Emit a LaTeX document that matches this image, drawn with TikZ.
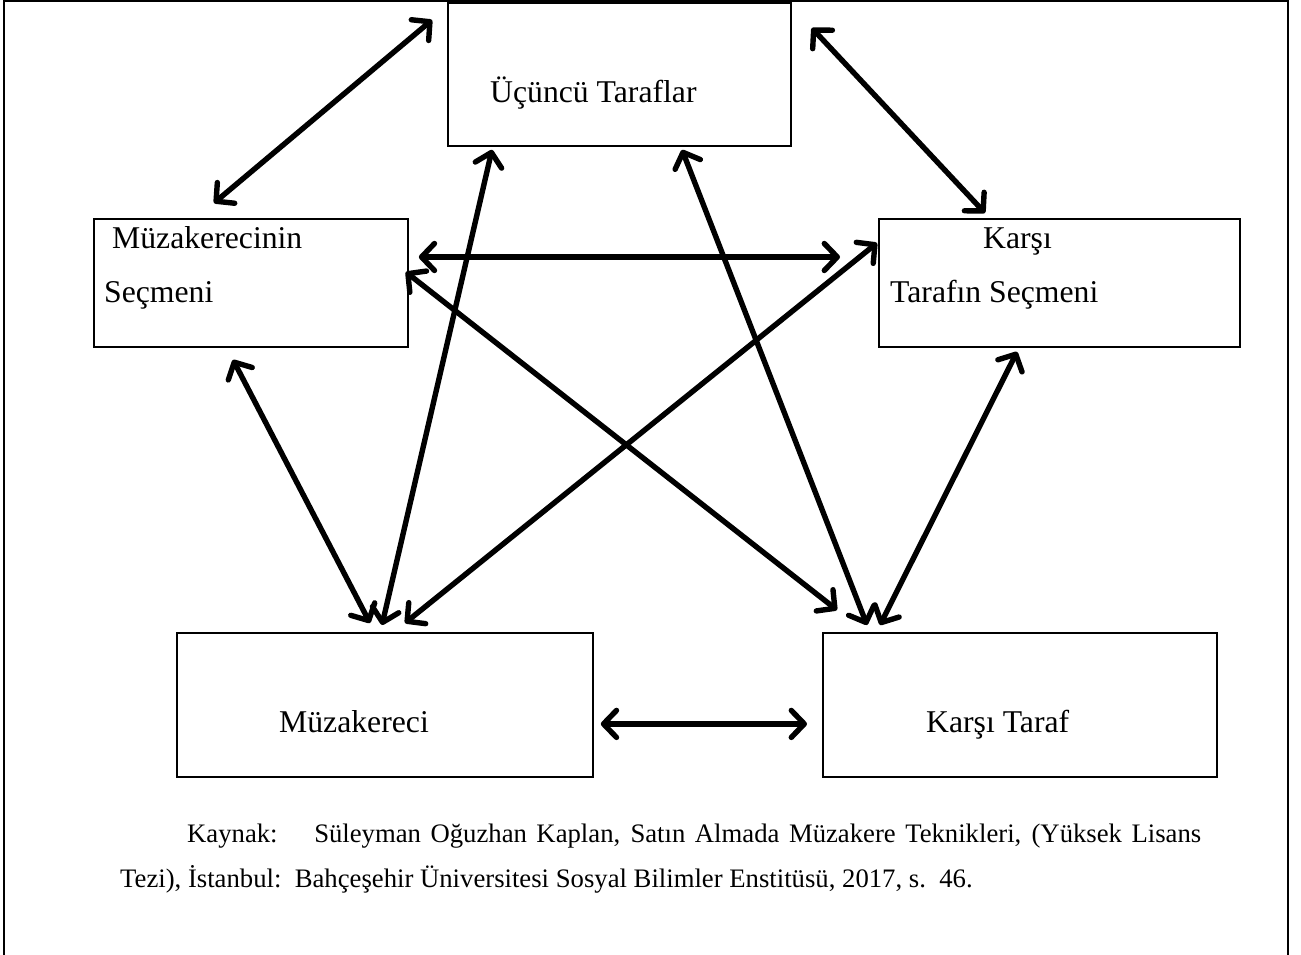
\documentclass[tikz,border=0pt]{standalone}
\usepackage{fontspec}
\setmainfont{Liberation Serif}
\usetikzlibrary{arrows.meta,calc}
\tikzset{
  box/.style={draw=black, line width=1.8pt, rectangle, inner sep=0pt, anchor=north west},
  boxtext/.style={anchor=base west, inner sep=0pt, font=\fontsize{31.7}{38}\selectfont},
  captext/.style={anchor=base west, inner sep=0pt, font=\fontsize{26.7}{32}\selectfont},
  barbtip/.tip={Straight Barb[length=13pt,width=27pt,line cap=round,line join=round]},
  biarrow/.style={line width=5.4pt, line cap=round, barbtip-barbtip},
  frame/.style={line width=2pt}
}
\begin{document}
\begin{tikzpicture}[x=1pt,y=-1pt]
\useasboundingbox (0,0) rectangle (1301,955);
% outer frame (open at the bottom)
\draw[frame] (4,955) -- (4,1) -- (1288,1) -- (1288,955);
% boxes
\node[box, minimum width=343pt, minimum height=143pt] (u) at (447,2) {};
\node[box, minimum width=314pt, minimum height=128pt] (ms) at (93,218) {};
\node[box, minimum width=361pt, minimum height=128pt] (ks) at (878,218) {};
\node[box, minimum width=416pt, minimum height=144pt] (m) at (176,632) {};
\node[box, minimum width=394pt, minimum height=144pt] (k) at (822,632) {};
% texts
\node[boxtext] (tu) at (490,103) {Üçüncü Taraflar};
\node[boxtext] (tms1) at (112,248) {Müzakerecinin};
\node[boxtext] (tms2) at (104,302) {Seçmeni};
\node[boxtext] (tks1) at (983,248) {Karşı};
\node[boxtext] (tks2) at (890,302) {Tarafın Seçmeni};
\node[boxtext] (tm) at (279,732) {Müzakereci};
\node[boxtext] (tk) at (926,732) {Karşı Taraf};
\node[captext] (cap1) at (187,842) {\makebox[1014pt][s]{Kaynak:\hspace{22pt} Süleyman Oğuzhan Kaplan, Satın Almada Müzakere Teknikleri, (Yüksek Lisans}};
\node[captext] (cap2) at (120,887) {Tezi), İstanbul:\ \ Bahçeşehir Üniversitesi Sosyal Bilimler Enstitüsü, 2017, s.\ \ 46.};
% connector end points
\coordinate (a1u) at ($(u.north west)+(-15,18)$);
\coordinate (a1s) at ($(ms.north west)+(121,-15)$);
\coordinate (a2u) at ($(u.north east)+(20,26)$);
\coordinate (a2s) at ($(ks.north west)+(107,-5)$);
\coordinate (a3l) at ($(ms.north east)+(10,39)$);
\coordinate (a3r) at ($(ks.north west)+(-38,39)$);
\coordinate (a4s) at ($(ms.south west)+(140,12)$);
\coordinate (a4m) at ($(m.north west)+(194,-9)$);
\coordinate (a5s) at ($(ms.north east)+(-3,54)$);
\coordinate (a5k) at ($(k.north west)+(15,-22)$);
\coordinate (a6u) at ($(u.south west)+(45,3)$);
\coordinate (a6m) at ($(m.north west)+(206,-7)$);
\coordinate (a7u) at ($(u.south west)+(235,3)$);
\coordinate (a7k) at ($(k.north west)+(45,-7)$);
\coordinate (a8s) at ($(ks.north west)+(-1,25)$);
\coordinate (a8m) at ($(m.north west)+(229,-9)$);
\coordinate (a9s) at ($(ks.south west)+(139,4)$);
\coordinate (a9k) at ($(k.north west)+(58,-7)$);
\coordinate (a10l) at ($(m.east)+(7,19)$);
\coordinate (a10r) at ($(k.west)+(-15,19)$);
% connectors
\draw[biarrow] (a1u) -- (a1s);
\draw[biarrow] (a2u) -- (a2s);
\draw[biarrow] (a3l) -- (a3r);
\draw[biarrow] (a4s) -- (a4m);
\draw[biarrow] (a5s) -- (a5k);
\draw[biarrow] (a6u) -- (a6m);
\draw[biarrow] (a7u) -- (a7k);
\draw[biarrow] (a8s) -- (a8m);
\draw[biarrow] (a9s) -- (a9k);
\draw[biarrow] (a10l) -- (a10r);
\end{tikzpicture}
\end{document}
